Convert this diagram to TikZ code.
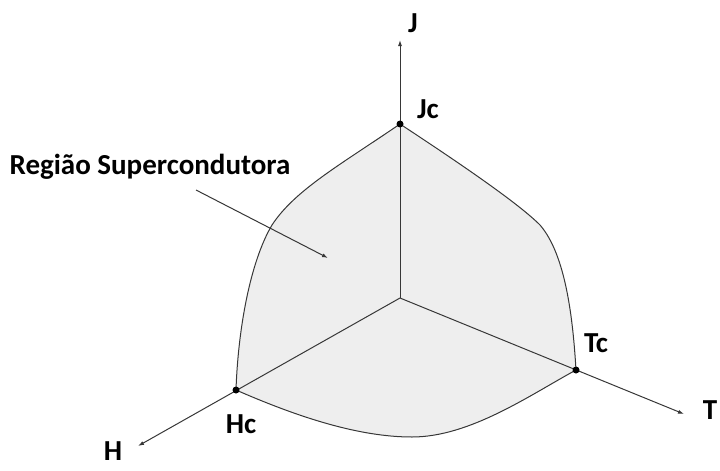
\documentclass[tikz,border=0pt]{standalone}
\usepackage{fontspec}
\setmainfont{Carlito}
\usepackage{tikz}
\usetikzlibrary{arrows.meta}
\definecolor{regionfill}{RGB}{238,238,238}
\definecolor{linedark}{RGB}{55,55,55}

\begin{document}
\begin{tikzpicture}[x=1pt, y=-1pt, every node/.style={font=\bfseries\fontsize{29}{31}\selectfont, inner sep=0pt},
    critdot/.style={circle, fill=black, minimum size=7pt},
    axisline/.style={linedark, line width=1pt, -{Latex[length=6pt,width=4pt]}}]
    \useasboundingbox (0,0) rectangle (720,471);
    % Points
    \coordinate (O) at (400,298);
    \coordinate (Jcp) at (400,124);
    \coordinate (Tcp) at (576,370);
    \coordinate (Hcp) at (236,390);
    \coordinate (Jtip) at (400,40);
    \coordinate (Ttip) at (684,414);
    \coordinate (Htip) at (138,446);
    % Region
    \filldraw[fill=regionfill, draw=linedark, line width=1pt]
        (Jcp) .. controls (470,170) and (520,205) .. (540,225)
        .. controls (566,255) and (573,320) .. (Tcp)
        .. controls (530,395) and (470,437) .. (412,437)
        .. controls (360,437) and (300,418) .. (Hcp)
        .. controls (238,330) and (250,262) .. (272,225)
        .. controls (295,190) and (340,165) .. (Jcp) -- cycle;
    % Axes
    \draw[axisline] (O) -- (Jtip);
    \draw[axisline] (O) -- (Ttip);
    \draw[axisline] (O) -- (Htip);
    % Critical points
    \node[critdot] (Jc) at (Jcp) {};
    \node[critdot] (Tc) at (Tcp) {};
    \node[critdot] (Hc) at (Hcp) {};
    % Labels
    \node (Jlabel) at (413,23) {J};
    \node (Jclabel) at (428,109) {Jc};
    \node (Tclabel) at (596,343) {Tc};
    \node (Hclabel) at (241,424) {Hc};
    \node (Hlabel) at (113,451) {H};
    \node (Tlabel) at (710,410) {T};
    \node (regiao) at (150,167) {Região Supercondutora};
    \coordinate (ptrstart) at (196,190);
    \coordinate (ptrend) at (328,258);
    \draw[axisline] (ptrstart) -- (ptrend);
\end{tikzpicture}
\end{document}
